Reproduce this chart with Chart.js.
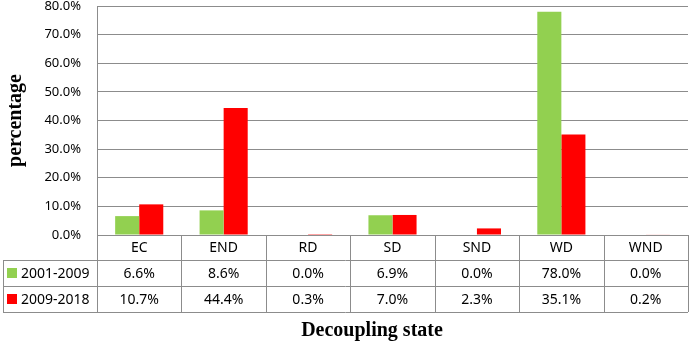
<!DOCTYPE html>
<html>
<head>
<meta charset="utf-8">
<script src="https://cdn.jsdelivr.net/npm/chart.js@4"></script>
<style>
  html,body{margin:0;padding:0;background:#fff;}
  #wrap{width:689px;height:347px;position:relative;}
</style>
</head>
<body>
<div id="wrap"><canvas id="chart"></canvas></div>
<script>
/* decoupling state chart with data table */
const categories=['EC','END','RD','SD','SND','WD','WND'];
const seriesNames=['2001-2009','2009-2018'];
const values2001=[6.6,8.6,0.0,6.9,0.0,78.0,0.0];
const values2009=[10.7,44.4,0.3,7.0,2.3,35.1,0.2];
const yTicks=[0,10,20,30,40,50,60,70,80];

const colors=['#92d050','#ff0000'];
const lineColor='#8c8c8c';
const bodyFont='"Noto Sans", sans-serif';
const pct=v=>v.toFixed(1)+'%';

/* ── Table under the plot, drawn from the x scale ── */
const tablePlugin={
  id:'dataTable',
  afterDraw(chart){
    const {ctx,chartArea:a,scales:{x}}=chart;
    const colW=x.width/categories.length;
    const top=a.bottom, r1=top+25, r2=top+51, r3=top+77;
    const leftEdge=3;
    ctx.save();
    ctx.strokeStyle=lineColor;
    ctx.lineWidth=1;
    ctx.beginPath();
    // horizontal rules
    ctx.moveTo(x.left,top+.5);ctx.lineTo(x.right,top+.5);
    [r1,r2,r3].forEach(y=>{ctx.moveTo(leftEdge,y+.5);ctx.lineTo(x.right,y+.5);});
    // vertical rules
    for(let i=0;i<=categories.length;i++){
      const px=Math.round(x.left+i*colW)+.5;
      ctx.moveTo(px,top);ctx.lineTo(px,r3);
    }
    ctx.moveTo(leftEdge+.5,r1);ctx.lineTo(leftEdge+.5,r3);
    ctx.stroke();

    ctx.fillStyle='#000';
    ctx.font='14px '+bodyFont;
    ctx.textAlign='center';
    ctx.textBaseline='middle';
    categories.forEach((c,i)=>{
      const cx=x.getPixelForValue(i);
      ctx.fillText(c,cx,(top+r1)/2+1);
      ctx.fillText(pct(values2001[i]),cx,(r1+r2)/2+1);
      ctx.fillText(pct(values2009[i]),cx,(r2+r3)/2+1);
    });
    // legend keys
    ctx.textAlign='left';
    [[r1,r2],[r2,r3]].forEach(([y0,y1],k)=>{
      const cy=(y0+y1)/2;
      ctx.fillStyle=colors[k];
      ctx.fillRect(7,cy-5,10,10);
      ctx.fillStyle='#000';
      ctx.fillText(seriesNames[k],21,cy+1);
    });
    // axis title
    ctx.font='bold 20px "Liberation Serif", serif';
    ctx.textAlign='center';
    ctx.fillText('Decoupling state',372,331);
    ctx.restore();
  }
};

new Chart(document.getElementById('chart'),{
  type:'bar',
  data:{
    labels:categories,
    datasets:[
      {label:seriesNames[0],data:values2001,backgroundColor:colors[0]},
      {label:seriesNames[1],data:values2009,backgroundColor:colors[1]}
    ]
  },
  options:{
    responsive:true,maintainAspectRatio:false,animation:false,
    categoryPercentage:0.57,barPercentage:1,
    layout:{padding:{top:6,bottom:112,left:0,right:1}},
    plugins:{legend:{display:false},tooltip:{enabled:false}},
    scales:{
      x:{display:false},
      y:{
        min:0,max:80,
        afterBuildTicks:s=>{s.ticks=yTicks.map(v=>({value:v}));},
        afterFit:s=>{s.width=97;s.paddingTop=0;s.paddingBottom=0;},
        border:{color:lineColor},
        grid:{color:lineColor,drawTicks:false},
        ticks:{color:'#000',padding:16,font:{family:'"Noto Sans", sans-serif',size:13},callback:v=>pct(v)},
        title:{display:true,text:'percentage',color:'#000',padding:{top:4,bottom:0},
          font:{family:'"Liberation Serif", serif',size:20,weight:'bold'}}
      }
    }
  },
  plugins:[tablePlugin]
});
</script>
</body>
</html>
